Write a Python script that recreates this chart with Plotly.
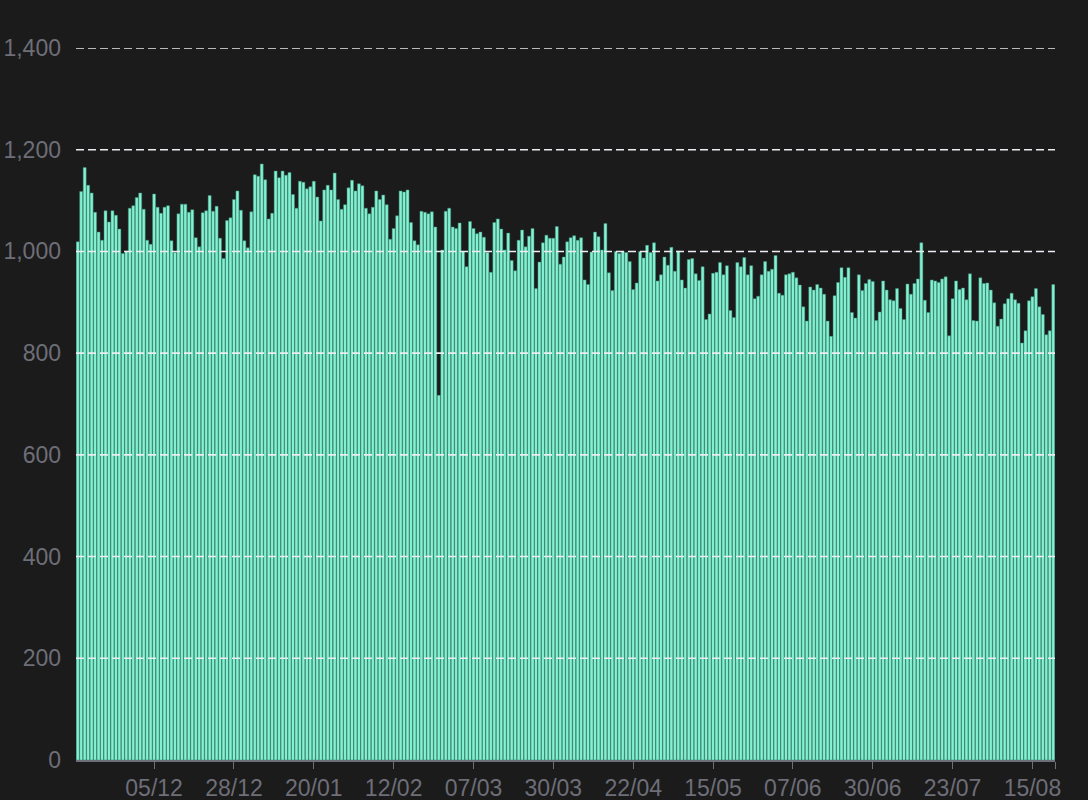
import pandas as pd
import plotly.graph_objects as go

start_date = "2022-11-13"

daily_counts = [
    1019, 1118, 1165, 1130, 1115, 1077, 1038, 1022, 1080, 1058,
    1080, 1071, 1044, 996, 1001, 1085, 1090, 1106, 1115, 1083,
    1022, 1014, 1113, 1087, 1075, 1087, 1090, 1021, 998, 1074,
    1093, 1093, 1077, 1082, 1027, 1009, 1076, 1080, 1110, 1079,
    1089, 1026, 986, 1061, 1066, 1102, 1119, 1081, 1021, 1007,
    1078, 1151, 1148, 1172, 1141, 1064, 1075, 1158, 1145, 1158,
    1150, 1155, 1112, 1085, 1138, 1136, 1123, 1127, 1138, 1107,
    1060, 1121, 1130, 1121, 1154, 1102, 1083, 1092, 1125, 1140,
    1119, 1133, 1129, 1085, 1074, 1087, 1119, 1102, 1111, 1092,
    1024, 1045, 1070, 1119, 1117, 1121, 1057, 1021, 1013, 1079,
    1077, 1074, 1078, 1048, 717, 1003, 1079, 1085, 1048, 1045,
    1056, 1000, 970, 1059, 1045, 1035, 1038, 1028, 998, 959,
    1057, 1064, 1044, 1003, 1036, 982, 962, 1022, 1042, 1009,
    1030, 1045, 927, 979, 1017, 1032, 1026, 1026, 1049, 975,
    989, 1019, 1027, 1031, 1022, 1027, 944, 935, 999, 1038,
    1029, 1003, 1055, 958, 923, 1000, 996, 1000, 998, 980,
    925, 938, 1000, 987, 1012, 998, 1017, 942, 954, 989,
    973, 1008, 961, 1001, 944, 928, 984, 986, 956, 943,
    970, 866, 877, 957, 959, 978, 954, 972, 884, 870,
    978, 970, 988, 954, 972, 907, 912, 954, 980, 961,
    965, 992, 918, 914, 954, 956, 959, 948, 934, 891,
    863, 930, 924, 935, 928, 916, 863, 833, 913, 939,
    968, 949, 968, 880, 869, 954, 923, 937, 945, 941,
    864, 881, 942, 924, 905, 903, 927, 888, 866, 936,
    916, 937, 946, 1017, 904, 880, 944, 942, 939, 946,
    950, 834, 907, 942, 925, 928, 905, 956, 864, 863,
    948, 937, 938, 924, 899, 853, 867, 897, 907, 918,
    905, 898, 820, 844, 903, 911, 927, 891, 876, 836,
    844, 935,
]

tick_labels = ["05/12", "28/12", "20/01", "12/02", "07/03", "30/03",
               "22/04", "15/05", "07/06", "30/06", "23/07", "15/08"]
tick_dates = ["2022-12-05", "2022-12-28", "2023-01-20", "2023-02-12",
              "2023-03-07", "2023-03-30", "2023-04-22", "2023-05-15",
              "2023-06-07", "2023-06-30", "2023-07-23", "2023-08-15"]

grid_levels = [200, 400, 600, 800, 1000, 1200, 1400]

dates = pd.date_range(start_date, periods=len(daily_counts), freq="D")
x_start = dates[0] - pd.Timedelta(hours=12)
x_end = dates[-1] + pd.Timedelta(hours=12)

bg = "#1b1b1b"
label_colour = "#6e6e78"
font_family = "Liberation Sans, Arial, sans-serif"

fig = go.Figure()
fig.add_trace(go.Bar(
    x=dates,
    y=daily_counts,
    marker=dict(color="#84f2d2", line=dict(color="#3a8a74", width=0.5)),
    hoverinfo="x+y",
))

# dashed split lines sit on top of the bars
for level in grid_levels:
    fig.add_shape(type="line", xref="paper", yref="y", x0=0, x1=1, y0=level, y1=level,
                  line=dict(color="#ececf2", width=1.6, dash="8px,4px"), layer="above")

fig.update_layout(
    width=1088, height=800,
    paper_bgcolor=bg, plot_bgcolor=bg,
    margin=dict(l=76, r=33, t=48, b=40, autoexpand=False),
    bargap=0.14,
    showlegend=False,
    font=dict(family=font_family, size=23, color=label_colour),
    xaxis=dict(
        type="date",
        range=[x_start, x_end],
        tickvals=list(pd.to_datetime(tick_dates)) + [x_end],
        ticktext=tick_labels + [""],
        ticks="outside", ticklen=7, tickcolor="#6e7079", tickwidth=1,
        showline=True, linecolor="#6e7079", linewidth=1.5,
        showgrid=False, zeroline=False, automargin=False,
        tickfont=dict(size=23, color=label_colour),
        ticklabelstandoff=0,
    ),
    yaxis=dict(
        range=[0, 1400], dtick=200, tick0=0,
        tickformat=",d",
        showgrid=False, zeroline=False, showline=False, automargin=False,
        ticks="", ticklabelstandoff=14,
        tickfont=dict(size=23, color=label_colour),
    ),
)

fig.write_html("out.html", config={"displayModeBar": False},
               post_script="document.body.style.margin='0';document.body.style.background='#1b1b1b';")
